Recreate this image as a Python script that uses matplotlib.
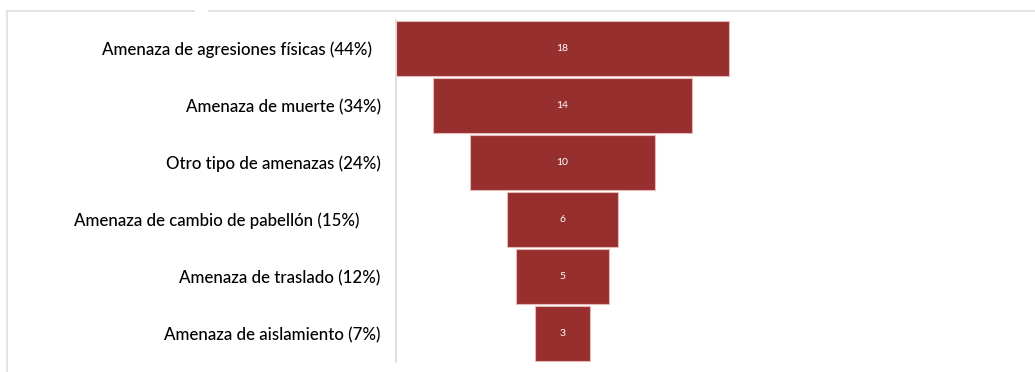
import matplotlib
matplotlib.use("Agg")
import matplotlib.pyplot as plt
from matplotlib.lines import Line2D

categories = [
    "Amenaza de agresiones físicas (44%)  ",
    "Amenaza de muerte (34%)",
    "Otro tipo de amenazas (24%)",
    "Amenaza de cambio de pabellón (15%)     ",
    "Amenaza de traslado (12%)",
    "Amenaza de aislamiento (7%)",
]
values = [18, 14, 10, 6, 5, 3]

W, H = 1035, 372
fig = plt.figure(figsize=(W / 100, H / 100), dpi=100)
fig.patch.set_facecolor("white")

# plot area in pixels
left_px, right_px = 396, 1035
top_px, bottom_px = 20, 362
ax = fig.add_axes([left_px / W, (H - bottom_px) / H,
                   (right_px - left_px) / W, (bottom_px - top_px) / H])

px_per_unit = 18.5
half = max(values) / 2
ax.set_xlim(-half, -half + (right_px - left_px) / px_per_unit)
ax.set_ylim(len(values) - 0.5, -0.5)

bar_color = "#982f2f"
ypos = list(range(len(values)))
lefts = [-v / 2 for v in values]
ax.barh(ypos, values, left=lefts, height=0.965, color=bar_color,
        edgecolor="#e6b8b8", linewidth=0.8)

for y, v in zip(ypos, values):
    ax.text(0, y, str(v), ha="center", va="center", color="white",
            fontsize=7.5, family="Lato")

ax.set_yticks(ypos)
ax.set_yticklabels(categories, fontsize=12.2, family="Lato",
                   fontweight="medium", color="#000000")
ax.tick_params(axis="y", length=0, pad=11)
for lbl in ax.get_yticklabels():
    lbl.set_va("center_baseline")
ax.set_xticks([])

for s in ["top", "right", "bottom"]:
    ax.spines[s].set_visible(False)
ax.spines["left"].set_color("#dcdcdc")
ax.spines["left"].set_linewidth(1.2)

# outer frame lines
frame_color = "#e0e0e0"
ytop = 1 - 11 / H
xl = 7 / W
fig.add_artist(Line2D([xl, 194 / W], [ytop, ytop], color=frame_color, lw=1.3,
                      transform=fig.transFigure))
fig.add_artist(Line2D([209 / W, 1], [ytop, ytop], color=frame_color, lw=1.3,
                      transform=fig.transFigure))
fig.add_artist(Line2D([xl, xl], [0, ytop], color=frame_color, lw=1.3,
                      transform=fig.transFigure))

fig.savefig("out.png", dpi=100, facecolor="white")
